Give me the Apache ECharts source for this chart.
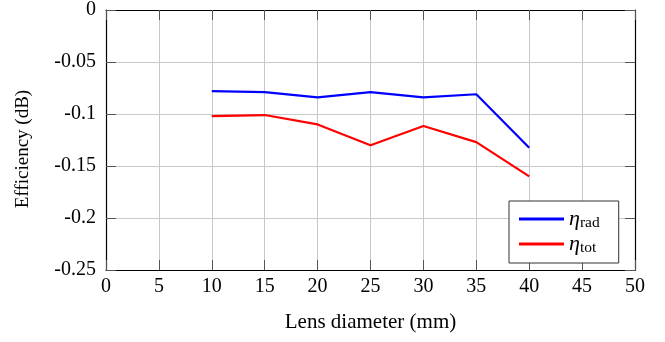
<!DOCTYPE html>
<html>
<head>
<meta charset="utf-8">
<script src="https://cdn.jsdelivr.net/npm/echarts@6/dist/echarts.min.js"></script>
<style>
  html, body { margin: 0; padding: 0; background: #fff; }
  #chart { width: 665px; height: 342px; }
</style>
</head>
<body>
<div id="chart"></div>
<script>
// Lens diameter (mm) and efficiencies (dB)
const diameters = [10, 15, 20, 25, 30, 35, 40];
const etaRad = [-0.078, -0.079, -0.084, -0.079, -0.084, -0.081, -0.1325];
const etaTot = [-0.102, -0.101, -0.110, -0.130, -0.1115, -0.127, -0.160];
const seriesNames = ['rad', 'tot'];

const FONT = 'Liberation Serif';
const tickStyle = { show: true, inside: true, length: 10, lineStyle: { color: '#555', width: 1 } };
const gridLine = { show: true, lineStyle: { color: '#c8c8c8', width: 1 } };
const frameLine = { show: true, onZero: false, lineStyle: { color: '#000', width: 1.2 } };

const chart = echarts.init(document.getElementById('chart'), null, { renderer: 'canvas' });

chart.setOption({
  backgroundColor: '#fff',
  animation: false,
  textStyle: { fontFamily: FONT },
  grid: { left: 106, right: 30, top: 6, bottom: 72, containLabel: false },
  xAxis: [
    {
      type: 'value', min: 0, max: 50, interval: 5, position: 'bottom',
      name: 'Lens diameter (mm)', nameLocation: 'middle', nameGap: 42,
      nameTextStyle: { fontFamily: FONT, fontSize: 21, color: '#000' },
      axisLine: frameLine, axisTick: tickStyle, splitLine: gridLine,
      axisLabel: { fontFamily: FONT, fontSize: 20, color: '#000', margin: 7 }
    },
    {
      type: 'value', min: 0, max: 50, interval: 5, position: 'top',
      axisLine: frameLine, axisTick: tickStyle, splitLine: { show: false },
      axisLabel: { show: false }
    }
  ],
  yAxis: [
    {
      type: 'value', min: -0.25, max: 0, interval: 0.05, position: 'left',
      name: 'Efficiency (dB)', nameLocation: 'middle', nameGap: 73, nameRotate: 90,
      nameTextStyle: { fontFamily: FONT, fontSize: 19, color: '#000', padding: [0, 18, 0, 0] },
      axisLine: frameLine, axisTick: tickStyle, splitLine: gridLine,
      axisLabel: { fontFamily: FONT, fontSize: 20, color: '#000', margin: 10 }
    },
    {
      type: 'value', min: -0.25, max: 0, interval: 0.05, position: 'right',
      axisLine: frameLine, axisTick: tickStyle, splitLine: { show: false },
      axisLabel: { show: false }
    }
  ],
  legend: {
    orient: 'vertical',
    left: 509, top: 201,
    padding: [7, 19, 7, 10],
    itemGap: 2,
    borderColor: '#333', borderWidth: 1,
    backgroundColor: '#fff',
    icon: 'rect', itemWidth: 45, itemHeight: 3,
    formatter: name => '{e|η}{s|' + name + '}',
    textStyle: {
      rich: {
        e: { fontFamily: FONT, fontSize: 22, fontStyle: 'italic', color: '#000' },
        s: { fontFamily: FONT, fontSize: 15.5, color: '#000', padding: [8, 0, 0, 0] }
      }
    },
    data: seriesNames
  },
  series: [
    {
      name: seriesNames[0], type: 'line', showSymbol: false,
      data: diameters.map((d, i) => [d, etaRad[i]]),
      lineStyle: { color: '#0000ff', width: 2.2 }, itemStyle: { color: '#0000ff' }
    },
    {
      name: seriesNames[1], type: 'line', showSymbol: false,
      data: diameters.map((d, i) => [d, etaTot[i]]),
      lineStyle: { color: '#ff0000', width: 2.2 }, itemStyle: { color: '#ff0000' }
    }
  ]
});
</script>
</body>
</html>
